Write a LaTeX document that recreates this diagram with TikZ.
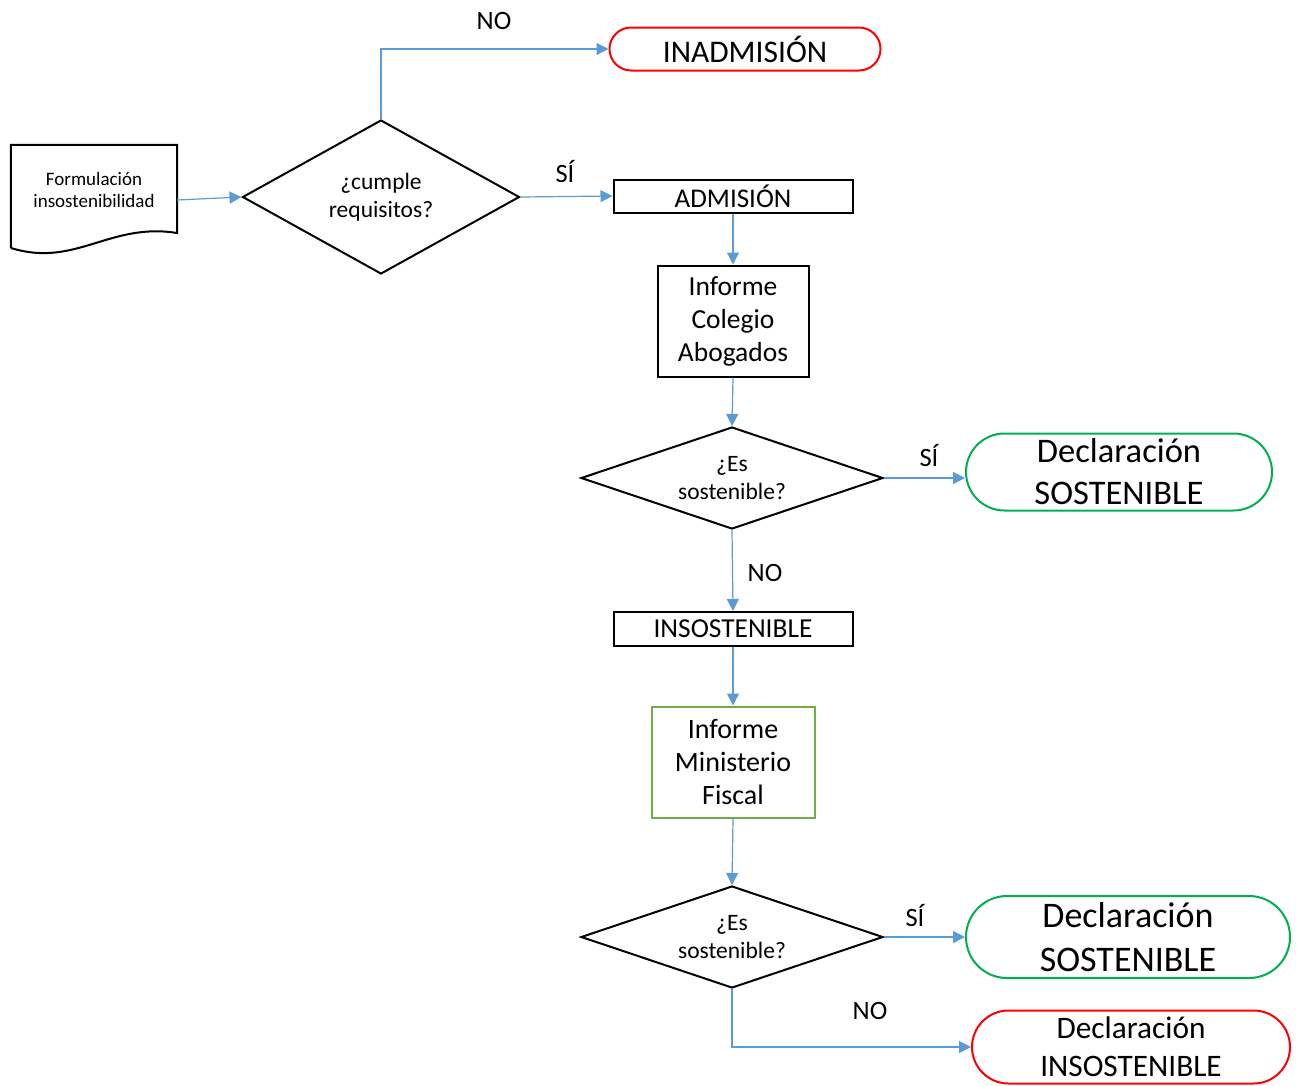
\documentclass[tikz,border=0pt]{standalone}
\usepackage{fontspec}
\setmainfont{Carlito}
\usetikzlibrary{shapes.geometric,shapes.misc,arrows.meta}
\definecolor{flujo}{RGB}{91,155,213}
\definecolor{verdefin}{RGB}{0,176,80}
\definecolor{verdecaja}{RGB}{112,173,71}
\definecolor{rojofin}{RGB}{255,0,0}
\tikzset{
  flecha/.style={draw=flujo, line width=1.2pt, -{Triangle[length=12pt,width=12pt]}},
  caja/.style={draw, line width=2pt, inner sep=0pt, align=center},
  rombo/.style={draw, diamond, line width=2pt, inner sep=0pt, align=center, font=\fontsize{23.5}{27.5}\selectfont},
  fin/.style={draw, rounded rectangle, line width=2pt, inner sep=0pt, align=center},
  etiq/.style={font=\fontsize{26.5}{30}\selectfont}
}
\begin{document}
\begin{tikzpicture}[x=1pt,y=-1pt]
\useasboundingbox (0,0) rectangle (1301,1085);
% documento de entrada
\node[inner sep=0pt, minimum width=166pt, minimum height=90pt, align=center, font=\fontsize{19}{22}\selectfont] (doc) at (94,190) {Formulación\\insostenibilidad};
\draw[line width=2pt] (11,248) -- (doc.north west) -- (doc.north east) -- (177,233) .. controls (110,222) and (75,268) .. (11,248);
% primera pregunta
\node[rombo, shape aspect=1.8, minimum width=277pt, minimum height=154pt] (req) at (381,197) {¿cumple\\requisitos?};
\node[fin, draw=rojofin, minimum width=271pt, minimum height=43pt, font=\fontsize{31.5}{36}\selectfont] (inad) at (745,49) {INADMISIÓN};
\node[caja, minimum width=239pt, minimum height=33pt, font=\fontsize{27}{32}\selectfont] (adm) at (733,196) {ADMISIÓN};
\node[caja, minimum width=151pt, minimum height=111pt, font=\fontsize{27.5}{33}\selectfont] (colegio) at (733,321) {Informe\\Colegio\\Abogados};
% segunda pregunta
\node[rombo, shape aspect=2.96, minimum width=302pt, minimum height=102pt] (es1) at (732,478) {¿Es\\sostenible?};
\node[fin, draw=verdefin, minimum width=306pt, minimum height=77pt, font=\fontsize{34.5}{42}\selectfont] (dsos1) at (1119,472) {Declaración\\SOSTENIBLE};
\node[caja, minimum width=239pt, minimum height=34pt, font=\fontsize{27.4}{32}\selectfont] (insos) at (733,629) {INSOSTENIBLE};
\node[caja, draw=verdecaja, minimum width=163pt, minimum height=111pt, font=\fontsize{28}{33}\selectfont] (fiscal) at (733,762) {Informe\\Ministerio\\Fiscal};
% tercera pregunta
\node[rombo, shape aspect=2.96, minimum width=302pt, minimum height=102pt] (es2) at (732,937) {¿Es\\sostenible?};
\node[fin, draw=verdefin, minimum width=324pt, minimum height=82pt, font=\fontsize{36}{44}\selectfont] (dsos2) at (1128,937) {Declaración\\SOSTENIBLE};
\node[fin, draw=rojofin, minimum width=318pt, minimum height=73pt, font=\fontsize{31.3}{38}\selectfont] (dins) at (1131,1047) {Declaración\\INSOSTENIBLE};
% etiquetas
\node[etiq] (no1) at (494,21) {NO};
\node[etiq] (si1) at (565,172) {SÍ};
\node[etiq] (si2) at (929,456) {SÍ};
\node[etiq] (no2) at (765,573) {NO};
\node[etiq] (si3) at (915,916) {SÍ};
\node[etiq] (no3) at (870,1011) {NO};
% conectores
\draw[flecha] ([yshift=-10pt]doc.east) -- (req.west);
\draw[flecha] (req.north) |- (inad.west);
\draw[flecha] (req.east) -- (adm.west);
\draw[flecha] (adm.south) -- (colegio.north);
\draw[flecha] (colegio.south) -- (es1.north);
\draw[flecha] (es1.east) -- (dsos1.west |- es1.east);
\draw[flecha] (es1.south) -- (insos.north);
\draw[flecha] (insos.south) -- (fiscal.north);
\draw[flecha] (fiscal.south) -- (es2.north);
\draw[flecha] (es2.east) -- (dsos2.west);
\draw[flecha] (es2.south) |- (dins.west);
\end{tikzpicture}
\end{document}
